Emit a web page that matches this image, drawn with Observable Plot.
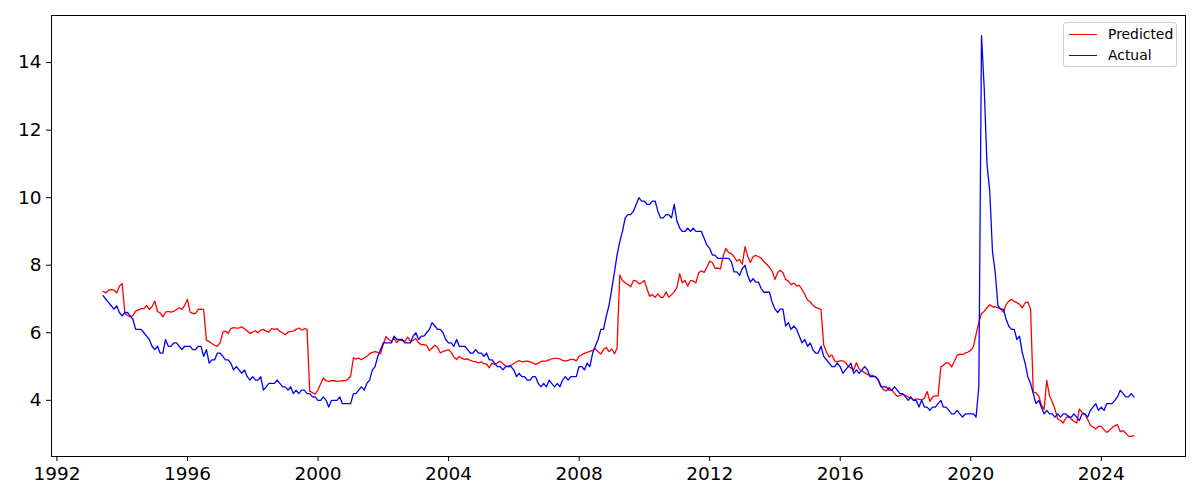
<!DOCTYPE html>
<html>
<head>
<meta charset="utf-8">
<script src="https://cdn.jsdelivr.net/npm/d3@7"></script>
<script src="https://cdn.jsdelivr.net/npm/@observablehq/plot@0.6"></script>
<style>
  html, body { margin: 0; padding: 0; background: #fff; }
  #wrap { position: relative; width: 1200px; height: 500px; }
  #chart svg text { font-family: "DejaVu Sans", sans-serif !important; font-size: 18.5px !important; fill: #000; }
  #legend {
    position: absolute; left: 1063px; top: 22px; width: 114px; height: 45px;
    border: 1px solid #d0d0d0; border-radius: 3px; background: rgba(255,255,255,0.8);
    font-family: "DejaVu Sans", sans-serif; font-size: 13.9px; color: #000;
    box-sizing: border-box;
  }
  .row { position: absolute; left: 0; height: 18px; width: 100%; }
  .row .ln { position: absolute; left: 5px; width: 28px; top: 9px; height: 0; border-top: 1.3px solid; }
  .row .lb { position: absolute; left: 44px; top: 0; line-height: 18px; white-space: nowrap; }
</style>
</head>
<body>
<div id="wrap">
  <div id="chart"></div>
  <div id="legend">
    <div class="row" style="top:2px"><span class="ln" style="border-color:red"></span><span class="lb">Predicted</span></div>
    <div class="row" style="top:23px"><span class="ln" style="border-color:blue"></span><span class="lb">Actual</span></div>
  </div>
</div>
<script>
// Monthly series, first observation May 1993 (month-end dates), last Dec 2024
const startYear = 1993;
const startMonth = 5;

const actual = [
  7.1, 7.0, 6.9, 6.8, 6.7, 6.8, 6.6, 6.5,
  6.6, 6.6, 6.5, 6.4, 6.1, 6.1, 6.1, 6.0, 5.9, 5.8, 5.6, 5.5,
  5.6, 5.4, 5.4, 5.8, 5.6, 5.6, 5.7, 5.7, 5.6, 5.5, 5.6, 5.6,
  5.6, 5.5, 5.5, 5.6, 5.6, 5.3, 5.5, 5.1, 5.2, 5.2, 5.4, 5.4,
  5.3, 5.2, 5.2, 5.1, 4.9, 5.0, 4.9, 4.8, 4.9, 4.7, 4.6, 4.7,
  4.6, 4.6, 4.7, 4.3, 4.4, 4.5, 4.5, 4.5, 4.6, 4.5, 4.4, 4.4,
  4.3, 4.4, 4.2, 4.3, 4.2, 4.3, 4.3, 4.2, 4.2, 4.1, 4.1, 4.0,
  4.0, 4.1, 4.0, 3.8, 4.0, 4.0, 4.0, 4.1, 3.9, 3.9, 3.9, 3.9,
  4.2, 4.2, 4.3, 4.4, 4.3, 4.5, 4.6, 4.9, 5.0, 5.3, 5.5, 5.7,
  5.7, 5.7, 5.7, 5.9, 5.8, 5.8, 5.8, 5.7, 5.7, 5.7, 5.9, 6.0,
  5.8, 5.9, 5.9, 6.0, 6.1, 6.3, 6.2, 6.1, 6.1, 6.0, 5.8, 5.7,
  5.7, 5.6, 5.8, 5.6, 5.6, 5.6, 5.5, 5.4, 5.4, 5.5, 5.4, 5.4,
  5.3, 5.4, 5.2, 5.2, 5.1, 5.0, 5.0, 4.9, 5.0, 5.0, 5.0, 4.9,
  4.7, 4.8, 4.7, 4.7, 4.6, 4.6, 4.7, 4.7, 4.5, 4.4, 4.5, 4.4,
  4.6, 4.5, 4.4, 4.5, 4.4, 4.6, 4.7, 4.6, 4.7, 4.7, 4.7, 5.0,
  5.0, 4.9, 5.1, 5.0, 5.4, 5.6, 5.8, 6.1, 6.1, 6.5, 6.8, 7.3,
  7.8, 8.3, 8.7, 9.0, 9.4, 9.5, 9.5, 9.6, 9.8, 10.0, 9.9, 9.9,
  9.8, 9.8, 9.9, 9.9, 9.6, 9.4, 9.4, 9.5, 9.5, 9.4, 9.8, 9.3,
  9.1, 9.0, 9.0, 9.1, 9.0, 9.1, 9.0, 9.0, 9.0, 8.8, 8.6, 8.5,
  8.3, 8.3, 8.2, 8.2, 8.2, 8.2, 8.2, 8.1, 7.8, 7.8, 7.7, 7.9,
  8.0, 7.7, 7.5, 7.6, 7.5, 7.5, 7.3, 7.2, 7.2, 7.2, 6.9, 6.7,
  6.6, 6.7, 6.7, 6.2, 6.3, 6.1, 6.2, 6.1, 5.9, 5.7, 5.8, 5.6,
  5.7, 5.5, 5.4, 5.4, 5.6, 5.3, 5.2, 5.1, 5.0, 5.0, 5.1, 5.0,
  4.8, 4.9, 5.0, 5.1, 4.8, 4.9, 4.8, 4.9, 5.0, 4.9, 4.7, 4.7,
  4.7, 4.6, 4.4, 4.4, 4.4, 4.3, 4.3, 4.4, 4.3, 4.2, 4.2, 4.1,
  4.0, 4.1, 4.0, 4.0, 3.8, 4.0, 3.8, 3.8, 3.7, 3.8, 3.8, 3.9,
  4.0, 3.8, 3.8, 3.7, 3.6, 3.6, 3.7, 3.6, 3.5, 3.6, 3.6, 3.6,
  3.6, 3.5, 4.4, 14.8, 13.2, 11.0, 10.2, 8.4, 7.8, 6.8, 6.7, 6.7,
  6.4, 6.2, 6.1, 6.1, 5.8, 5.9, 5.4, 5.1, 4.7, 4.5, 4.2, 3.9,
  4.0, 3.8, 3.6, 3.7, 3.6, 3.6, 3.5, 3.6, 3.5, 3.6, 3.6, 3.5,
  3.5, 3.6, 3.5, 3.4, 3.6, 3.6, 3.5, 3.7, 3.8, 3.9, 3.7, 3.8,
  3.7, 3.9, 3.9, 3.9, 4.0, 4.1, 4.3, 4.2, 4.1, 4.1, 4.2, 4.1
];

const predicted = [
  7.23, 7.18, 7.26, 7.28, 7.26, 7.18, 7.38, 7.46,
  6.57, 6.51, 6.47, 6.51, 6.64, 6.67, 6.72, 6.71,
  6.81, 6.69, 6.77, 6.94, 6.63, 6.59, 6.47, 6.61,
  6.63, 6.61, 6.63, 6.69, 6.74, 6.69, 6.81, 6.99,
  6.61, 6.57, 6.57, 6.69, 6.70, 6.69, 5.78, 5.74,
  5.68, 5.63, 5.60, 5.70, 6.02, 6.05, 5.98, 6.12,
  6.15, 6.14, 6.14, 6.18, 6.12, 6.05, 5.98, 6.02,
  6.06, 6.00, 6.08, 6.10, 6.05, 6.02, 6.12, 6.10,
  6.12, 6.04, 6.00, 5.94, 6.02, 6.04, 6.05, 6.10,
  6.14, 6.08, 6.12, 6.10, 4.27, 4.23, 4.18, 4.31,
  4.49, 4.66, 4.58, 4.56, 4.58, 4.58, 4.56, 4.57,
  4.58, 4.58, 4.62, 4.72, 5.26, 5.22, 5.25, 5.20,
  5.26, 5.30, 5.38, 5.42, 5.44, 5.42, 5.38, 5.66,
  5.89, 5.80, 5.75, 5.83, 5.71, 5.79, 5.77, 5.75,
  5.87, 5.75, 5.77, 5.83, 5.70, 5.65, 5.65, 5.63,
  5.47, 5.55, 5.63, 5.57, 5.40, 5.45, 5.47, 5.50,
  5.42, 5.28, 5.21, 5.30, 5.24, 5.21, 5.23, 5.18,
  5.15, 5.14, 5.11, 5.14, 5.08, 5.08, 4.96, 5.10,
  5.06, 5.11, 5.16, 5.08, 5.02, 5.01, 5.04, 5.09,
  5.14, 5.18, 5.14, 5.15, 5.16, 5.14, 5.11, 5.06,
  5.10, 5.15, 5.16, 5.16, 5.20, 5.23, 5.24, 5.24,
  5.23, 5.18, 5.16, 5.18, 5.21, 5.21, 5.17, 5.30,
  5.35, 5.39, 5.42, 5.45, 5.48, 5.53, 5.44, 5.37,
  5.51, 5.56, 5.44, 5.52, 5.38, 5.54, 7.71, 7.55,
  7.48, 7.43, 7.36, 7.55, 7.53, 7.45, 7.48, 7.55,
  7.28, 7.08, 7.13, 7.05, 7.15, 7.05, 7.05, 7.21,
  7.05, 7.13, 7.21, 7.35, 7.75, 7.48, 7.55, 7.38,
  7.55, 7.53, 7.48, 7.78, 7.83, 7.79, 7.93, 8.12,
  8.08, 7.91, 7.91, 7.89, 8.27, 8.50, 8.37, 8.34,
  8.25, 8.12, 8.17, 8.03, 8.55, 8.27, 8.08, 8.25,
  8.29, 8.25, 8.21, 8.10, 8.03, 7.94, 7.82, 7.58,
  7.78, 7.85, 7.78, 7.58, 7.53, 7.42, 7.47, 7.39,
  7.40, 7.28, 7.14, 6.97, 6.91, 6.82, 6.75, 6.72,
  6.69, 5.64, 5.43, 5.28, 5.34, 5.16, 5.14, 5.17,
  5.17, 5.12, 5.00, 4.96, 4.90, 5.11, 4.92, 4.87,
  4.82, 4.76, 4.74, 4.74, 4.68, 4.62, 4.44, 4.31,
  4.28, 4.38, 4.30, 4.20, 4.12, 4.14, 4.18, 4.15,
  4.10, 4.06, 4.01, 4.04, 4.03, 4.01, 4.06, 4.26,
  3.97, 4.10, 4.13, 4.13, 4.99, 5.04, 5.11, 5.10,
  4.99, 5.15, 5.33, 5.37, 5.35, 5.40, 5.43, 5.48,
  5.60, 5.95, 6.31, 6.57, 6.64, 6.74, 6.83, 6.77,
  6.77, 6.74, 6.71, 6.61, 6.84, 6.93, 6.99, 6.93,
  6.89, 6.84, 6.74, 6.89, 6.91, 6.70, 4.25, 4.22,
  4.12, 3.87, 3.72, 4.59, 4.13, 3.96, 3.74, 3.44,
  3.41, 3.33, 3.47, 3.54, 3.44, 3.38, 3.33, 3.74,
  3.64, 3.59, 3.44, 3.26, 3.21, 3.15, 3.23, 3.23,
  3.13, 3.05, 3.11, 3.19, 3.25, 3.28, 3.07, 3.10,
  3.03, 2.94, 2.93, 2.95
];

const yTicks = [4, 6, 8, 10, 12, 14];
const xTickYears = [1992, 1996, 2000, 2004, 2008, 2012, 2016, 2020, 2024];

// month-end dates
const dates = actual.map((_, i) => new Date(Date.UTC(startYear, startMonth - 1 + i + 1, 0)));
const rows = [];
dates.forEach((d, i) => {
  rows.push({date: d, value: predicted[i], series: "Predicted"});
});
dates.forEach((d, i) => {
  rows.push({date: d, value: actual[i], series: "Actual"});
});

const x0 = +dates[0], x1 = +dates[dates.length - 1];
const xm = (x1 - x0) * 0.05;
const ymin = d3.min([...actual, ...predicted]), ymax = d3.max([...actual, ...predicted]);
const ym = (ymax - ymin) * 0.05;

const chart = Plot.plot({
  width: 1200,
  height: 500,
  marginLeft: 51,
  marginRight: 15,
  marginTop: 15,
  marginBottom: 44,
  style: {fontFamily: "DejaVu Sans, sans-serif", fontSize: "18.5px", color: "#000", background: "#fff", overflow: "visible"},
  x: {type: "utc", domain: [new Date(x0 - xm), new Date(x1 + xm)]},
  y: {domain: [ymin - ym, ymax + ym]},
  color: {domain: ["Predicted", "Actual"], range: ["red", "blue"]},
  marks: [
    Plot.line(rows, {x: "date", y: "value", z: "series", stroke: "series", strokeWidth: 1.3}),
    Plot.frame({stroke: "#000", strokeWidth: 1}),
    Plot.axisX({ticks: xTickYears.map(y => new Date(Date.UTC(y, 0, 1))), tickFormat: d3.utcFormat("%Y"), tickSize: 5, tickPadding: 5, label: null, fontSize: 18.5}),
    Plot.axisY({ticks: yTicks, tickSize: 5, tickPadding: 5, label: null, fontSize: 18.5})
  ]
});
document.getElementById("chart").appendChild(chart);
</script>
</body>
</html>
